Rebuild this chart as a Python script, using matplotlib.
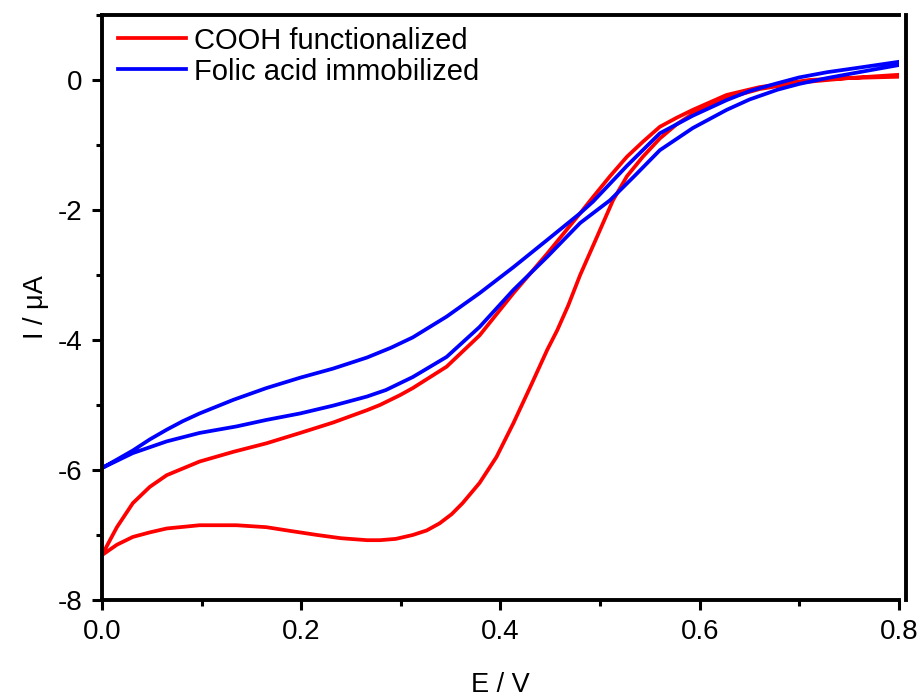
import numpy as np
import matplotlib.pyplot as plt
from matplotlib.ticker import MultipleLocator

# COOH functionalized electrode, two branches of the loop (E in V, I in uA)
cooh_up_E = [0.0, 0.008, 0.015, 0.031, 0.048, 0.065, 0.098, 0.132, 0.165, 0.199,
             0.232, 0.266, 0.279, 0.299, 0.312, 0.346, 0.379, 0.413, 0.447, 0.48,
             0.493, 0.51, 0.527, 0.543, 0.56, 0.577, 0.593, 0.627, 0.66, 0.71,
             0.75, 0.8]
cooh_up_I = [-7.31, -7.08, -6.88, -6.51, -6.26, -6.08, -5.87, -5.72, -5.59, -5.43,
             -5.27, -5.08, -5.0, -4.85, -4.74, -4.41, -3.93, -3.28, -2.67, -2.05,
             -1.80, -1.48, -1.18, -0.95, -0.72, -0.58, -0.46, -0.23, -0.11, 0.0,
             0.03, 0.05]
cooh_lo_E = [0.0, 0.015, 0.031, 0.048, 0.065, 0.098, 0.135, 0.165, 0.19,
             0.216, 0.24, 0.266, 0.279, 0.295, 0.312, 0.326, 0.339, 0.351, 0.362,
             0.379, 0.396, 0.413, 0.43, 0.447, 0.457, 0.468, 0.48, 0.497, 0.513,
             0.527, 0.543, 0.56, 0.577, 0.60, 0.627, 0.66, 0.70, 0.75, 0.8]
cooh_lo_I = [-7.31, -7.15, -7.03, -6.96, -6.90, -6.85, -6.85, -6.88, -6.94,
             -7.0, -7.05, -7.08, -7.08, -7.06, -7.0, -6.93, -6.82, -6.68, -6.51,
             -6.20, -5.80, -5.28, -4.72, -4.15, -3.85, -3.47, -3.0, -2.41, -1.85,
             -1.48, -1.18, -0.90, -0.68, -0.45, -0.28, -0.14, -0.04, 0.03, 0.08]

# Folic acid immobilized electrode
fa_up_E = [0.0, 0.015, 0.031, 0.048, 0.065, 0.081, 0.098, 0.132, 0.165, 0.199,
           0.232, 0.266, 0.29, 0.312, 0.346, 0.379, 0.413, 0.447, 0.48, 0.493,
           0.527, 0.56, 0.593, 0.627, 0.65, 0.678, 0.70, 0.728, 0.76, 0.8]
fa_up_I = [-5.97, -5.84, -5.70, -5.53, -5.38, -5.25, -5.13, -4.92, -4.74, -4.58,
           -4.44, -4.27, -4.12, -3.96, -3.64, -3.28, -2.88, -2.46, -2.05, -1.87,
           -1.32, -0.82, -0.55, -0.31, -0.17, -0.05, 0.04, 0.12, 0.19, 0.28]
fa_lo_E = [0.0, 0.031, 0.065, 0.098, 0.135, 0.165, 0.199, 0.232, 0.266, 0.285,
           0.312, 0.346, 0.379, 0.413, 0.447, 0.48, 0.51, 0.535, 0.56, 0.593,
           0.627, 0.65, 0.678, 0.70, 0.728, 0.76, 0.8]
fa_lo_I = [-5.97, -5.74, -5.56, -5.43, -5.33, -5.23, -5.13, -5.01, -4.87, -4.77,
           -4.57, -4.26, -3.80, -3.23, -2.72, -2.20, -1.85, -1.47, -1.08, -0.74,
           -0.46, -0.30, -0.15, -0.06, 0.03, 0.12, 0.23]

plt.rcParams['font.family'] = ['Liberation Sans', 'DejaVu Sans']
plt.rcParams['axes.unicode_minus'] = False

fig = plt.figure(figsize=(9.22, 6.97), dpi=100)
ax = fig.add_axes([0.1106, 0.1392, 0.8644, 0.8393])

# close each loop: lower branch back from 0.8 V to 0 V, then upper branch out again
ax.plot(cooh_lo_E[::-1] + cooh_up_E, cooh_lo_I[::-1] + cooh_up_I,
        color='#ff0000', lw=2.7, label='COOH functionalized')
ax.plot(fa_lo_E[::-1] + fa_up_E, fa_lo_I[::-1] + fa_up_I,
        color='#0000ff', lw=2.7, label='Folic acid immobilized')

ax.set_xlim(0, 0.8)
ax.set_ylim(-8, 1)
ax.xaxis.set_major_locator(MultipleLocator(0.2))
ax.xaxis.set_minor_locator(MultipleLocator(0.1))
ax.yaxis.set_major_locator(MultipleLocator(2))
ax.yaxis.set_minor_locator(MultipleLocator(1))
ax.xaxis.set_major_formatter(plt.FuncFormatter(lambda v, p: f'{v:.1f}'))
ax.tick_params(which='major', direction='out', length=7, width=2.2, labelsize=20, pad=7)
ax.tick_params(which='minor', direction='out', length=4, width=2.2)
ax.tick_params(top=False, right=False)

for s in ax.spines.values():
    s.set_linewidth(2.8)
ax.spines['right'].set_position(('axes', 1.009))

ax.set_xlabel('E / V', fontsize=19.5, labelpad=19)
ax.set_ylabel('I / μA', fontsize=19.5, labelpad=6)

ax.legend(loc='upper left', frameon=False, fontsize=21, handlelength=2.3,
          handletextpad=0.3, labelspacing=0.1, borderaxespad=0.0,
          bbox_to_anchor=(0.006, 1.0))

fig.savefig('out.png', dpi=100)
